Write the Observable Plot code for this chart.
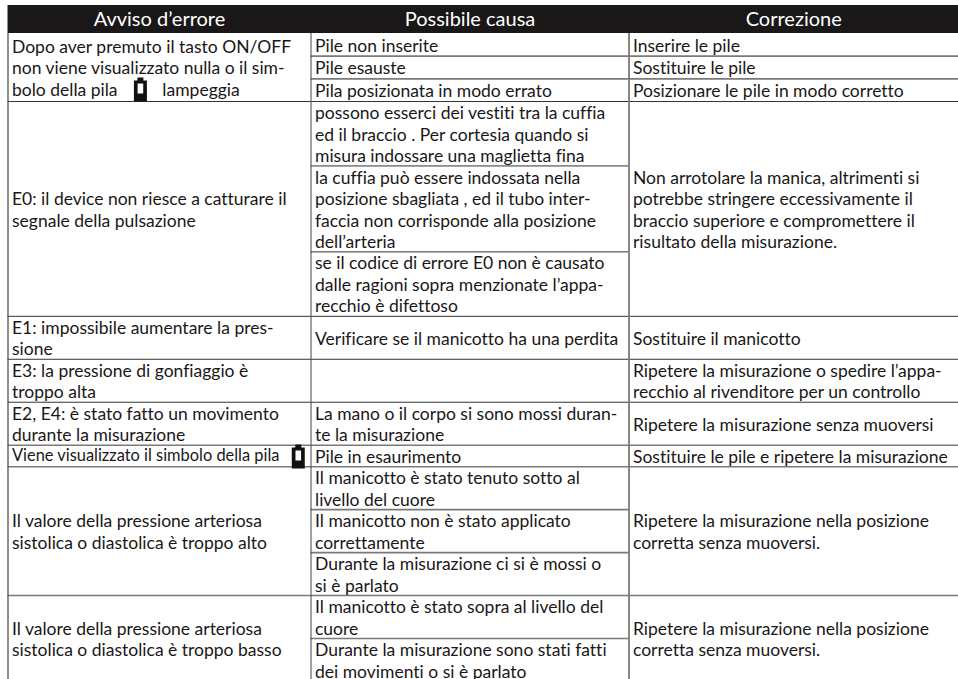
<!DOCTYPE html>
<html><head><meta charset="utf-8">
<script src="https://cdn.jsdelivr.net/npm/d3@7"></script>
<script src="https://cdn.jsdelivr.net/npm/@observablehq/plot@0.6"></script>
<style>html,body{margin:0;padding:0;background:#fff;overflow:hidden}svg{display:block}svg text{font-variant-ligatures:none}</style>
</head><body><div id="chart"></div>
<script>
const intestazioni = ["Avviso d’errore", "Possibile causa", "Correzione"];

const avvisi = [
  "Dopo aver premuto il tasto ON/OFF\nnon viene visualizzato nulla o il sim-\nbolo della pila          lampeggia",
  "E0: il device non riesce a catturare il\nsegnale della pulsazione",
  "E1: impossibile aumentare la pres-\nsione",
  "E3: la pressione di gonfiaggio è\ntroppo alta",
  "E2, E4: è stato fatto un movimento\ndurante la misurazione",
  "Viene visualizzato il simbolo della pila",
  "Il valore della pressione arteriosa\nsistolica o diastolica è troppo alto",
  "Il valore della pressione arteriosa\nsistolica o diastolica è troppo basso"
];
const avvisiRighe = [3, 10, 2, 2, 2, 1, 6, 4];

const cause = [
  "Pile non inserite",
  "Pile esauste",
  "Pila posizionata in modo errato",
  "possono esserci dei vestiti tra la cuffia\ned il braccio . Per cortesia quando si\nmisura indossare una maglietta fina",
  "la cuffia può essere indossata nella\nposizione sbagliata , ed il tubo inter-\nfaccia non corrisponde alla posizione\ndell’arteria",
  "se il codice di errore E0 non è causato\ndalle ragioni sopra menzionate l’appa-\nrecchio è difettoso",
  "Verificare se il manicotto ha una perdita",
  "",
  "La mano o il corpo si sono mossi duran-\nte la misurazione",
  "Pile in esaurimento",
  "Il manicotto è stato tenuto sotto al\nlivello del cuore",
  "Il manicotto non è stato applicato\ncorrettamente",
  "Durante la misurazione ci si è mossi o\nsi è parlato",
  "Il manicotto è stato sopra al livello del\ncuore",
  "Durante la misurazione sono stati fatti\ndei movimenti o si è parlato"
];
const causeRighe = [1, 1, 1, 3, 4, 3, 2, 2, 2, 1, 2, 2, 2, 2, 2];

const correzioni = [
  "Inserire le pile",
  "Sostituire le pile",
  "Posizionare le pile in modo corretto",
  "Non arrotolare la manica, altrimenti si\npotrebbe stringere eccessivamente il\nbraccio superiore e compromettere il\nrisultato della misurazione.",
  "Sostituire il manicotto",
  "Ripetere la misurazione o spedire l’appa-\nrecchio al rivenditore per un controllo",
  "Ripetere la misurazione senza muoversi",
  "Sostituire le pile e ripetere la misurazione",
  "Ripetere la misurazione nella posizione\ncorretta senza muoversi.",
  "Ripetere la misurazione nella posizione\ncorretta senza muoversi."
];
const correzioniRighe = [1, 1, 1, 10, 2, 2, 2, 1, 6, 4];

// Battery symbols: column fraction and text-line position
const pileCol = [0.437, 0.958];
const pileRiga = [2.47, 19.53];

function celle(testi, righe, col) {
  let y = 0;
  return testi.map((t, i) => {
    const c = {testo: t, col, y1: y, y2: y + righe[i], i};
    y += righe[i];
    return c;
  });
}
const colA = celle(avvisi, avvisiRighe, 0);
const colB = celle(cause, causeRighe, 1);
const colC = celle(correzioni, correzioniRighe, 2);
const tutte = [...colA, ...colB, ...colC];
const corpo = tutte.filter(d => !d.testo.startsWith("Viene"));
const stretta = tutte.filter(d => d.testo.startsWith("Viene"));

const chiare = new Set([1, 2, 19, 20, 22, 24, 26, 28]);
const bordi = tutte.filter(d => d.y2 < 30).map(d => ({x1: d.col, x2: d.col + 1, y: d.y2}));
const bordiScuri = bordi.filter(d => !chiare.has(d.y));
const bordiChiari = bordi.filter(d => chiare.has(d.y));

const batteria = {
  draw(ctx, size) {
    const u = Math.sqrt(size / Math.PI) / 12;
    ctx.moveTo(-6.5*u, -9*u); ctx.lineTo(6.5*u, -9*u); ctx.lineTo(6.5*u, 12*u); ctx.lineTo(-6.5*u, 12*u); ctx.closePath();
    ctx.moveTo(-2.8*u, -6*u); ctx.lineTo(-2.8*u, 4*u); ctx.lineTo(2.8*u, 4*u); ctx.lineTo(2.8*u, -6*u); ctx.closePath();
    ctx.moveTo(-3*u, -12*u); ctx.lineTo(3*u, -12*u); ctx.lineTo(3*u, -9*u); ctx.lineTo(-3*u, -9*u); ctx.closePath();
  }
};

const scalaX = d3.scaleLinear().domain([0, 1, 2, 3]).range([7.5, 310.5, 628.5, 958]);
const scalaY = d3.scaleLinear().domain([-1.3, 0, 3, 30]).range([5, 33, 101, 681]);

const font = "Lato, sans-serif";
const plot = Plot.plot({
  width: 958, height: 679,
  margin: 0,
  style: {background: "#fff", fontFamily: font},
  x: {transform: scalaX, domain: [0, 958], range: [0, 958], axis: null},
  y: {transform: scalaY, domain: [0, 679], range: [0, 679], axis: null},
  marks: [
    Plot.rect([0], {x1: () => 0, x2: () => 3, y1: () => -1.3, y2: () => 0, fill: "#1a1718"}),
    Plot.text(intestazioni, {x: (d, i) => i + 0.5, y: () => -0.65, text: d => d, fill: "#fff", fontSize: 20, lineAnchor: "middle"}),
    Plot.ruleY(bordiChiari, {x1: "x1", x2: "x2", y: "y", stroke: "#7a7a7a", strokeWidth: 1.6}),
    Plot.ruleY(bordiScuri, {x1: "x1", x2: "x2", y: "y", stroke: "#333", strokeWidth: 1}),
    Plot.ruleX([0], {x: d => d, y1: () => 0, y2: () => 30, stroke: "#444", strokeWidth: 1.2}),
    Plot.ruleX([1], {x: d => d, y1: () => 0, y2: () => 30, stroke: "#444", strokeWidth: 1}),
    Plot.ruleX([2], {x: d => d, y1: () => 0, y2: () => 30, stroke: "#7a7a7a", strokeWidth: 1.8}),
    Plot.text(corpo, {x: "col", y: d => (d.y1 + d.y2) / 2, text: "testo", dx: 4, textAnchor: "start", lineAnchor: "middle", fill: "#1a1718", fontSize: 17.5, lineHeight: 1.23}),
    Plot.text(stretta, {x: "col", y: d => (d.y1 + d.y2) / 2, text: "testo", dx: 4, textAnchor: "start", lineAnchor: "middle", fill: "#1a1718", fontSize: 16.4}),
    Plot.dot(pileCol.map((c, i) => ({c: c, r: pileRiga[i]})), {x: "c", y: "r", r: 12, symbol: batteria, fill: "#111", stroke: "none"})
  ]
});
document.getElementById("chart").append(plot);
</script></body></html>
